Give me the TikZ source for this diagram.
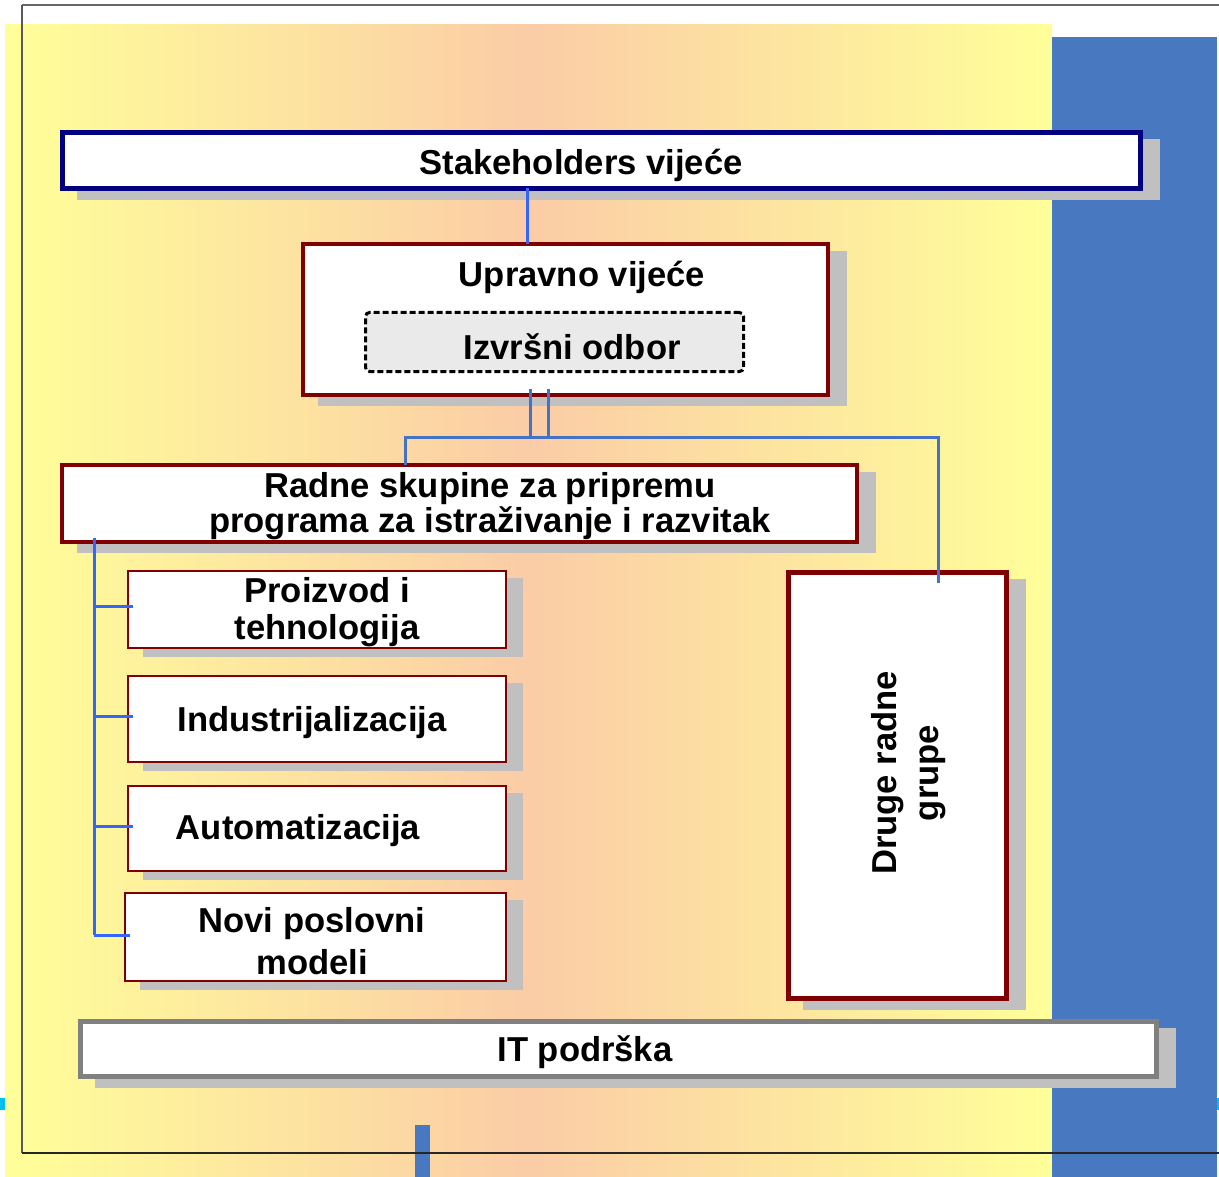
\documentclass[tikz,border=0pt]{standalone}
\usepackage{fontspec}
\setmainfont{Liberation Sans}
\usetikzlibrary{calc,shadows}
\definecolor{yel}{HTML}{FFFF99}
\definecolor{peach}{HTML}{FBCCA6}
\definecolor{sideblue}{HTML}{4878C0}
\definecolor{navyb}{HTML}{000080}
\definecolor{dred}{HTML}{800000}
\definecolor{shgray}{HTML}{C0C0C0}
\definecolor{conA}{HTML}{3366FF}
\definecolor{conB}{HTML}{4472C4}
\definecolor{odbor}{HTML}{EAEAEA}
\definecolor{itgray}{HTML}{808080}
\definecolor{cyanmark}{HTML}{00BFF3}
\begin{document}
\begin{tikzpicture}[x=1pt,y=-1pt,
  lbl/.style={font=\fontsize{34.6}{36}\selectfont\bfseries, align=center, inner sep=0pt, outer sep=0pt},
  boxbase/.style={fill=white, inner sep=0pt, outer sep=0pt, anchor=north west},
  bigbox/.style={boxbase, drop shadow={shadow xshift=17pt, shadow yshift=-9pt, fill=shgray, draw=shgray, opacity=1}},
  smallbox/.style={boxbase, draw=dred, line width=2pt, drop shadow={shadow xshift=16pt, shadow yshift=-8pt, fill=shgray, draw=shgray, opacity=1}},
  connA/.style={draw=conA, line width=3pt},
  connB/.style={draw=conB, line width=3pt}
]
\useasboundingbox (0,0) rectangle (1219,1177);
% background
\fill[white] (0,0) rectangle (1219,1177);
\shade[left color=yel, right color=yel, middle color=peach] (5,25) rectangle (1052,1177);
\fill[sideblue] (1052,37) rectangle (1217,1177);
\fill[sideblue] (415,1125) rectangle (430,1177);
\fill[cyanmark] (0,1098) rectangle (5,1110);
\fill[cyanmark] (1217,1098) rectangle (1219,1110);
% frame
\draw[line width=2pt, color=black!60] (22,5.5) -- (1219,5.5);
\draw[line width=1.6pt, color=black!65] (22,5.5) -- (22,1153);
\draw[line width=1.3pt, color=black!85] (22,1153) -- (1219,1153);

% boxes
\node[bigbox, draw=navyb, line width=5pt, minimum width=1078pt, minimum height=56pt] (stk) at (62.5,132.5) {};
\node[bigbox, draw=dred, line width=4.5pt, minimum width=525pt, minimum height=151pt] (upr) at (303,244) {};
\node[boxbase, fill=odbor, draw=black, line width=3pt, dash pattern=on 6pt off 3pt, rounded corners=4pt, minimum width=378pt, minimum height=59pt] (izv) at (365.5,312.5) {};
\node[bigbox, draw=dred, line width=4.5pt, minimum width=795pt, minimum height=77pt] (rad) at (62,465) {};
\node[smallbox, minimum width=378pt, minimum height=77pt] (pro) at (128,571) {};
\node[smallbox, minimum width=378pt, minimum height=86pt] (ind) at (128,676) {};
\node[smallbox, minimum width=378pt, minimum height=85pt] (aut) at (128,786) {};
\node[smallbox, minimum width=381pt, minimum height=88pt] (nov) at (125,893) {};
\node[bigbox, draw=dred, line width=5pt, minimum width=218pt, minimum height=426pt] (dru) at (788.5,572.5) {};
\node[bigbox, draw=itgray, line width=5pt, minimum width=1076pt, minimum height=55pt] (it) at (80.5,1021.5) {};

% texts
\node[lbl] (stk-t) at (581,165) {Stakeholders vijeće};
\node[lbl] (upr-t) at (582,277) {Upravno vijeće};
\node[lbl] (izv-t) at (572,347) {Izvršni odbor};
\node[lbl, font=\fontsize{34.6}{35}\selectfont\bfseries] (rad-t) at (490,506) {Radne skupine za pripremu\\programa za istraživanje i razvitak};
\node[lbl, font=\fontsize{34.6}{37}\selectfont\bfseries] (pro-t) at (327,612) {Proizvod i\\tehnologija};
\node[lbl] (ind-t) at (312,723) {Industrijalizacija};
\node[lbl] (aut-t) at (298,831) {Automatizacija};
\node[lbl, font=\fontsize{34.6}{42}\selectfont\bfseries] (nov-t) at (312,941) {Novi poslovni\\modeli};
\node[lbl, font=\fontsize{34.6}{42}\selectfont\bfseries, rotate=90] (dru-t) at (909,773) {Druge radne\\grupe};
\node[lbl] (it-t) at (585,1052) {IT podrška};

% connectors
\coordinate (cs) at (527,0);
\draw[connA] (stk.south -| cs) -- (upr.north -| cs);
\coordinate (j1) at (530,437);
\coordinate (j2) at (548,437);
\coordinate (jl) at (405,437);
\coordinate (jr) at (938,437);
\draw[connB] ($(upr.south -| j1)+(0,-6)$) -- (j1);
\draw[connB] ($(upr.south -| j2)+(0,-6)$) -- (j2);
\draw[connB] (rad.north -| jl) -- (jl) -- (jr) -- ($(dru.north -| jr)+(0,10)$);
\coordinate (bt) at (94,538);
\draw[connA] (bt) -- ($(bt |- nov.west)+(0,-2)$);
\draw[connA] ($(bt |- pro.west)+(0,-3)$) -- ($(pro.west)+(5,-3)$);
\draw[connA] ($(bt |- ind.west)+(0,-3)$) -- ($(ind.west)+(5,-3)$);
\draw[connA] ($(bt |- aut.west)+(0,-2)$) -- ($(aut.west)+(5,-2)$);
\draw[connA] ($(bt |- nov.west)+(0,-2)$) -- ($(nov.west)+(5,-2)$);
\end{tikzpicture}
\end{document}
